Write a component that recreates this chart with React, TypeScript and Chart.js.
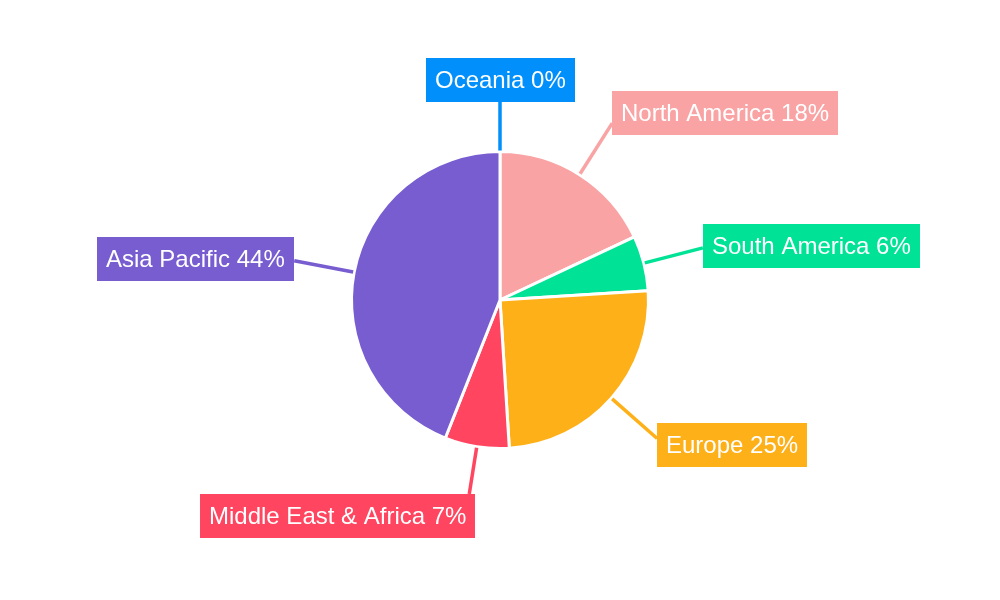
import React, { useEffect, useRef } from "react";
import { Chart, registerables } from "chart.js";

Chart.register(...registerables);

const regions = ["North America", "South America", "Europe", "Middle East & Africa", "Asia Pacific", "Oceania"];
const shares = [18, 6, 25, 7, 44, 0];
const colors = ["#f9a3a4", "#00e396", "#feb019", "#ff4560", "#775dd0", "#008ffb"];

const calloutPlugin = {
  id: "callouts",
  afterDraw(chart: any) {
    const ctx = chart.ctx;
    const meta = chart.getDatasetMeta(0);
    const total = shares.reduce((a, b) => a + b, 0);
    ctx.save();
    ctx.font = '24px "Liberation Sans", Arial, sans-serif';
    ctx.textBaseline = "middle";
    ctx.textAlign = "left";
    meta.data.forEach((arc: any, i: number) => {
      const { x, y, startAngle, endAngle, outerRadius } = arc.getProps(
        ["x", "y", "startAngle", "endAngle", "outerRadius"],
        true
      );
      const mid = (startAngle + endAngle) / 2;
      const c = Math.cos(mid);
      const s = Math.sin(mid);
      const vertical = Math.abs(s) > 0.95;
      const r0 = outerRadius + 1;
      const r1 = outerRadius + (vertical ? (s < 0 ? 50 : 48) : 61);
      const sx = x + c * r0, sy = y + s * r0;
      const ex = x + c * r1, ey = y + s * r1;
      const color = colors[i];
      ctx.strokeStyle = color;
      ctx.lineWidth = 3.5;
      ctx.beginPath();
      ctx.moveTo(sx, sy);
      ctx.lineTo(ex, ey);
      ctx.stroke();

      const pct = Math.round((shares[i] / total) * 100);
      const text = `${regions[i]} ${pct}%`;
      const tw = ctx.measureText(text).width;
      const padX = 9;
      const w = tw + padX * 2;
      const h = 44;
      let bx: number, by: number;
      if (vertical) {
        by = s < 0 ? ey - h : ey;
        if (Math.abs(c) < 0.05) bx = ex - w / 2;
        else if (c < 0) bx = ex + 6 - w;
        else bx = ex - 6;
      } else {
        by = ey - h / 2 - (s < -0.3 ? 10 : s > 0.3 ? -6 : 2);
        bx = c > 0 ? ex : ex - w;
      }
      ctx.fillStyle = color;
      ctx.fillRect(Math.round(bx), Math.round(by), Math.round(w), h);
      ctx.fillStyle = "#ffffff";
      ctx.fillText(text, Math.round(bx) + padX, Math.round(by) + h / 2 + 1);
    });
    ctx.restore();
  },
};

export default function App() {
  const canvasRef = useRef<HTMLCanvasElement | null>(null);
  useEffect(() => {
    document.body.style.margin = "0";
    const chart = new Chart(canvasRef.current as HTMLCanvasElement, {
      type: "pie",
      data: {
        labels: regions,
        datasets: [
          {
            data: shares,
            backgroundColor: colors,
            borderColor: "#ffffff",
            borderWidth: 3,
          },
        ],
      },
      options: {
        animation: false,
        responsive: false,
        layout: { padding: { top: 150, bottom: 150, left: 0, right: 0 } },
        plugins: {
          legend: { display: false },
          tooltip: { enabled: false },
        },
      },
      plugins: [calloutPlugin],
    });
    return () => chart.destroy();
  }, []);
  return (
    <div style={{ width: 1000, height: 600, background: "#ffffff" }}>
      <canvas ref={canvasRef} width={1000} height={600} style={{ display: "block" }} />
    </div>
  );
}
